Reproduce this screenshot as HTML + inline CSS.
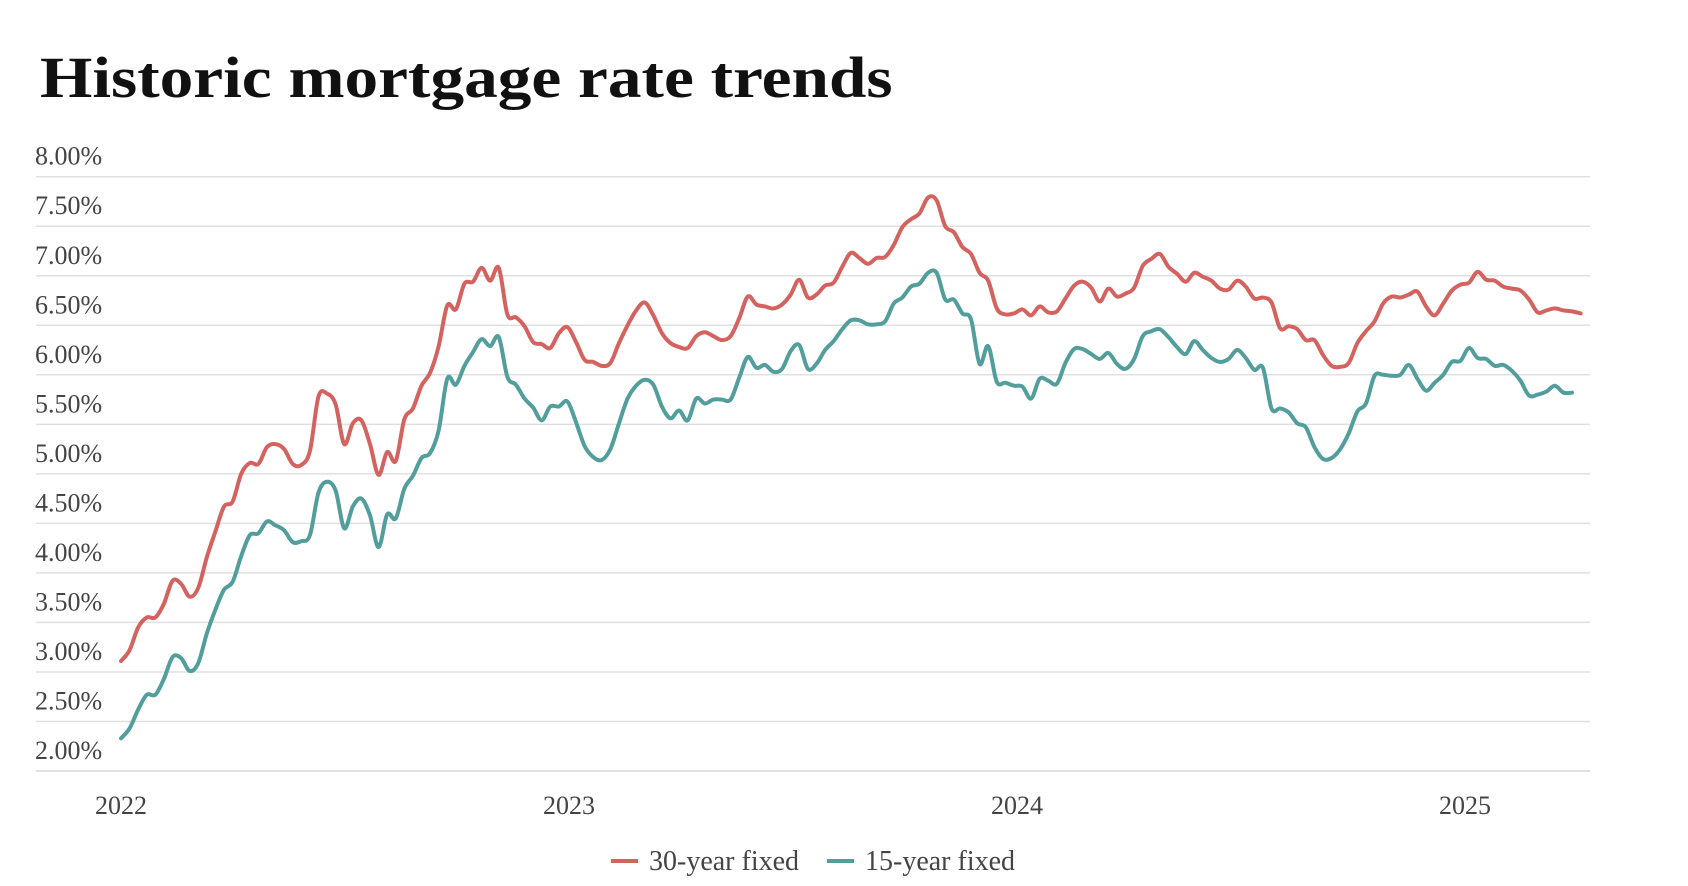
<!DOCTYPE html>
<html><head><meta charset="utf-8"><style>
body{margin:0;background:#fff;width:1688px;height:886px;overflow:hidden;font-family:"Liberation Serif",serif;}
#title{position:absolute;left:40px;top:44px;font-size:58px;font-weight:bold;color:#111;margin:0;transform:scaleX(1.16);transform-origin:0 0;white-space:nowrap;}
svg{position:absolute;left:0;top:0;}
</style></head><body>
<h1 id="title">Historic mortgage rate trends</h1>
<svg id="chart" width="1688" height="886"></svg>
<script>
const yTicks=[2,2.5,3,3.5,4,4.5,5,5.5,6,6.5,7,7.5,8];
const xYears=[2022,2023,2024,2025];
const rate30=[3.11,3.22,3.45,3.55,3.55,3.69,3.92,3.89,3.76,3.85,4.16,4.42,4.67,4.72,5.0,5.11,5.10,5.27,5.30,5.25,5.10,5.09,5.23,5.78,5.81,5.70,5.30,5.51,5.54,5.30,4.99,5.22,5.13,5.55,5.66,5.89,6.02,6.29,6.70,6.66,6.92,6.94,7.08,6.95,7.08,6.61,6.58,6.49,6.33,6.31,6.27,6.42,6.48,6.33,6.15,6.13,6.09,6.12,6.32,6.50,6.65,6.73,6.60,6.42,6.32,6.28,6.27,6.39,6.43,6.39,6.35,6.39,6.57,6.79,6.71,6.69,6.67,6.71,6.81,6.96,6.78,6.81,6.90,6.93,7.09,7.23,7.18,7.12,7.18,7.19,7.31,7.49,7.57,7.63,7.79,7.76,7.50,7.44,7.29,7.22,7.03,6.95,6.67,6.61,6.62,6.66,6.60,6.69,6.63,6.64,6.77,6.90,6.94,6.88,6.74,6.87,6.79,6.82,6.88,7.10,7.17,7.22,7.09,7.02,6.94,7.03,6.99,6.95,6.87,6.86,6.95,6.89,6.77,6.78,6.73,6.47,6.49,6.46,6.35,6.35,6.20,6.09,6.08,6.12,6.32,6.44,6.54,6.72,6.79,6.78,6.81,6.84,6.69,6.60,6.72,6.85,6.91,6.93,7.04,6.96,6.95,6.89,6.87,6.85,6.76,6.63,6.65,6.67,6.65,6.64,6.62];
const rate15=[2.33,2.43,2.62,2.77,2.77,2.93,3.15,3.14,3.01,3.09,3.39,3.63,3.83,3.91,4.17,4.38,4.40,4.52,4.48,4.43,4.31,4.32,4.38,4.81,4.92,4.83,4.45,4.67,4.75,4.58,4.26,4.59,4.55,4.85,4.98,5.16,5.21,5.44,5.96,5.90,6.09,6.23,6.36,6.29,6.38,5.98,5.90,5.76,5.67,5.54,5.68,5.68,5.73,5.52,5.28,5.17,5.14,5.25,5.51,5.76,5.89,5.95,5.90,5.68,5.56,5.64,5.54,5.76,5.71,5.75,5.75,5.75,5.97,6.18,6.07,6.10,6.03,6.06,6.24,6.30,6.06,6.11,6.25,6.34,6.46,6.55,6.55,6.51,6.51,6.54,6.72,6.78,6.89,6.92,7.03,7.03,6.76,6.76,6.62,6.56,6.11,6.29,5.93,5.92,5.89,5.88,5.76,5.96,5.94,5.91,6.12,6.26,6.26,6.21,6.16,6.22,6.11,6.06,6.16,6.39,6.44,6.46,6.38,6.28,6.21,6.34,6.25,6.17,6.13,6.16,6.25,6.17,6.05,6.07,5.66,5.66,5.62,5.51,5.47,5.27,5.15,5.16,5.25,5.41,5.63,5.71,5.99,6.00,5.99,6.00,6.10,5.96,5.84,5.92,6.00,6.13,6.14,6.27,6.17,6.16,6.09,6.10,6.04,5.94,5.79,5.80,5.83,5.89,5.82,5.82];
const NS='http://www.w3.org/2000/svg';
const svg=document.getElementById('chart');
const L=36,R=1590,x0=121,pxYear=448,yTop=176.7,yBot=771;
function xs(t){return x0+(t-2022)*pxYear;}
function ys(v){return yBot-(v-2)/(8-2)*(yBot-yTop);}
function mk(tag,attrs){const e=document.createElementNS(NS,tag);for(const k in attrs)e.setAttribute(k,attrs[k]);svg.appendChild(e);return e;}
yTicks.forEach(v=>{
  const g=mk('line',{x1:L,x2:R,y1:ys(v),y2:ys(v),stroke:'#e0e0e0','stroke-width':v===2?2:1.5});
  
  
  const t=mk('text',{x:35,y:ys(v)-12,'font-size':26,fill:'#444','font-family':'Liberation Serif, serif'});
  t.textContent=v.toFixed(2)+'%';
  
  
});
xYears.forEach(y=>{
  const t=mk('text',{x:xs(y),y:814,'font-size':26,fill:'#444','text-anchor':'middle','font-family':'Liberation Serif, serif'});
  t.textContent=y;
  
  
});
function path(vals){
  const step=7/365.25;
  const p=vals.map((v,i)=>[xs(2022+i*step),ys(v)]);
  let d='M'+p[0][0]+','+p[0][1];
  for(let i=0;i<p.length-1;i++){
    const a=p[Math.max(0,i-1)],b=p[i],c=p[i+1],e=p[Math.min(p.length-1,i+2)];
    const c1=[b[0]+(c[0]-a[0])/6,b[1]+(c[1]-a[1])/6],c2=[c[0]-(e[0]-b[0])/6,c[1]-(e[1]-b[1])/6];
    d+=' C'+c1+' '+c2+' '+c;
  }
  return d;
}
const l30=mk('path',{d:path(rate30),fill:'none',stroke:'#d4625f','stroke-width':4,'stroke-linejoin':'round','stroke-linecap':'round'});


const l15=mk('path',{d:path(rate15),fill:'none',stroke:'#529e9c','stroke-width':4,'stroke-linejoin':'round','stroke-linecap':'round'});


[[611,'#d4625f','30-year fixed','legend-30-year'],[827,'#529e9c','15-year fixed','legend-15-year']].forEach(([x,c,lab,n])=>{
  const s=mk('line',{x1:x,x2:x+27,y1:861,y2:861,stroke:c,'stroke-width':4});
  
  
  const t=mk('text',{x:x+38,y:870,'font-size':28,fill:'#444','font-family':'Liberation Serif, serif'});
  t.textContent=lab;
  
  
});
</script>
</body></html>
